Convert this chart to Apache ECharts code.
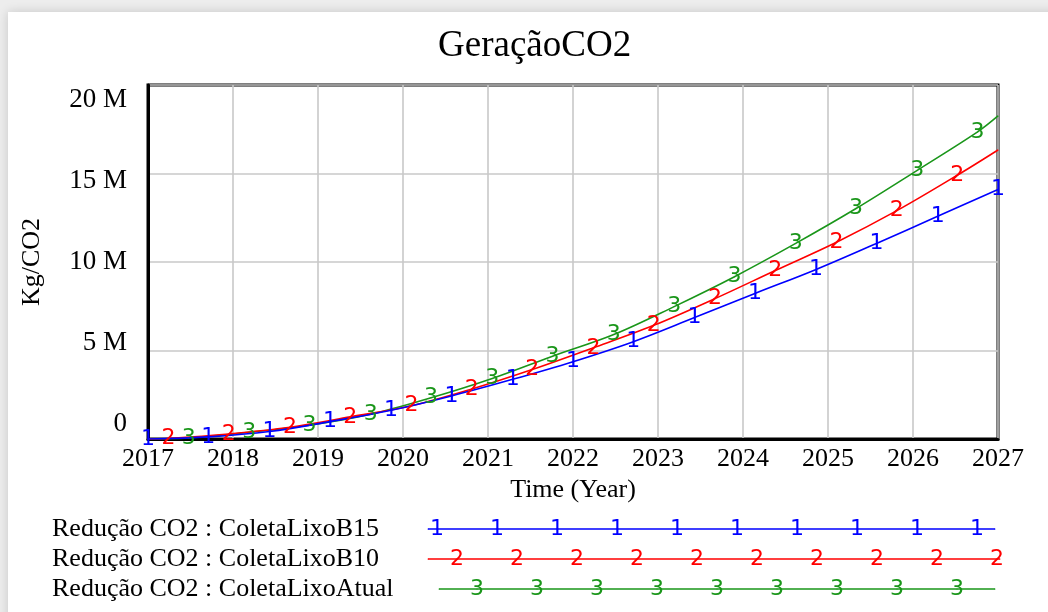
<!DOCTYPE html>
<html><head><meta charset="utf-8">
<script src="https://cdn.jsdelivr.net/npm/echarts@6/dist/echarts.min.js"></script>
<style>
html,body{margin:0;padding:0;background:#ededed;width:1048px;height:612px;overflow:hidden}
#card{position:absolute;left:8px;top:12px;width:1080px;height:640px;background:#fff;box-shadow:0 0 10px rgba(0,0,0,0.16)}
#chart{position:absolute;left:0;top:0;width:1048px;height:612px}
</style></head><body><div id="card"></div><div id="chart"></div>
<script>
const titleText = 'GeraçãoCO2';
const yAxisName = 'Kg/CO2';
const xAxisName = 'Time (Year)';
const xMin = 2017, xMax = 2027;
const yTickValues = [0, 5, 10, 15, 20];          // M Kg
const seriesNames = ['Redução CO2 : ColetaLixoB15', 'Redução CO2 : ColetaLixoB10', 'Redução CO2 : ColetaLixoAtual'];
const seriesMarks = ['1', '2', '3'];
const seriesColors = ['#0000ff', '#ff0000', '#1a961a'];
const marksAtEnds = [true, false, false];

// ColetaLixoB15 (blue) — time, value in millions
const b15Years  = [2017.00, 2017.71, 2018.43, 2019.14, 2019.86, 2020.57, 2021.29, 2022.00, 2022.71, 2023.43, 2024.14, 2024.86, 2025.57, 2026.29, 2027.00];
const b15Values = [0.00, 0.12, 0.42, 0.98, 1.62, 2.43, 3.37, 4.37, 5.50, 6.86, 8.22, 9.58, 11.05, 12.58, 14.10];
// ColetaLixoB10 (red)
const b10Years  = [2017.00, 2017.24, 2017.95, 2018.67, 2019.38, 2020.10, 2020.81, 2021.52, 2022.24, 2022.95, 2023.67, 2024.38, 2025.10, 2025.81, 2026.52, 2027.00];
const b10Values = [0.00, 0.03, 0.28, 0.66, 1.25, 1.88, 2.82, 3.92, 5.15, 6.42, 7.93, 9.52, 11.12, 12.90, 14.90, 16.33];
// ColetaLixoAtual (green)
const atualYears  = [2017.00, 2017.48, 2018.19, 2018.90, 2019.62, 2020.33, 2021.05, 2021.76, 2022.48, 2023.19, 2023.90, 2024.62, 2025.33, 2026.05, 2026.76, 2027.00];
const atualValues = [0.00, 0.06, 0.38, 0.78, 1.40, 2.33, 3.42, 4.68, 5.90, 7.48, 9.17, 11.05, 13.02, 15.18, 17.35, 18.25];

const allYears = [b15Years, b10Years, atualYears];
const allValues = [b15Values, b10Values, atualValues];

const serif = 'Liberation Serif';
const markFont = {fontFamily: 'DejaVu Sans', fontSize: 22, fontWeight: 'normal'};

function markLabel(i) {
  return Object.assign({show: true, position: 'inside', formatter: seriesMarks[i], color: seriesColors[i]}, markFont);
}

function mainSeries(i) {
  const ys = allYears[i], vs = allValues[i];
  const data = ys.map((x, j) => {
    const isEnd = (j === 0 || j === ys.length - 1);
    const item = {value: [x, vs[j]]};
    if (isEnd && !marksAtEnds[i]) item.label = {show: false};
    return item;
  });
  return {
    type: 'line', name: seriesNames[i], xAxisIndex: 0, yAxisIndex: 0,
    data, smooth: 0.35, symbol: 'circle', symbolSize: 1, showSymbol: true,
    lineStyle: {color: seriesColors[i], width: 1.6},
    itemStyle: {color: seriesColors[i]},
    label: markLabel(i),
    labelLayout: {hideOverlap: false},
    silent: true, z: 3
  };
}

// legend rows (layout in pixels of the legend grid)
const legendRows = [{start: 428, end: 995, first: 437}, {start: 428, end: 1000, first: 457}, {start: 439, end: 995, first: 477}];
function legendSeries(i) {
  const r = legendRows[i];
  const data = [{value: [r.start, seriesNames[i]], label: {show: false}}];
  for (let x = r.first; x <= r.end + 1; x += 60) data.push({value: [x, seriesNames[i]]});
  if (data[data.length - 1].value[0] < r.end) data.push({value: [r.end, seriesNames[i]], label: {show: false}});
  return {
    type: 'line', xAxisIndex: 1, yAxisIndex: 2, data,
    symbol: 'circle', symbolSize: 1, showSymbol: true,
    lineStyle: {color: seriesColors[i], width: 1.6},
    itemStyle: {color: seriesColors[i]},
    label: markLabel(i),
    silent: true
  };
}

const chart = echarts.init(document.getElementById('chart'), null, {renderer: 'canvas'});
chart.setOption({
  animation: false,
  backgroundColor: 'transparent',
  title: {text: titleText, left: 433, top: 23,
    textStyle: {fontFamily: serif, fontSize: 37, fontWeight: 'normal', color: '#000'}},
  grid: [
    {left: 148, top: 85, width: 850, height: 354, show: true, borderColor: '#000', borderWidth: 3, backgroundColor: 'transparent'},
    {left: 428, top: 514, width: 572, height: 90}
  ],
  xAxis: [
    {type: 'value', gridIndex: 0, min: xMin, max: xMax, interval: 1,
      name: xAxisName, nameLocation: 'middle', nameGap: 38,
      nameTextStyle: {fontFamily: serif, fontSize: 26, color: '#000'},
      axisLine: {show: true, lineStyle: {color: '#000', width: 3}},
      axisTick: {show: false},
      axisLabel: {fontFamily: serif, fontSize: 26, color: '#000', margin: 7, showMinLabel: true, showMaxLabel: true,
        formatter: v => String(v)},
      splitLine: {show: true, lineStyle: {color: '#c8c8c8', width: 1.6}}},
    {type: 'value', gridIndex: 1, min: 428, max: 1000, show: false}
  ],
  yAxis: [
    {type: 'value', gridIndex: 0, min: yTickValues[0], max: yTickValues[yTickValues.length - 1], interval: 5,
      name: yAxisName, nameLocation: 'middle', nameRotate: 90, nameGap: 103,
      nameTextStyle: {fontFamily: serif, fontSize: 26, color: '#000'},
      axisLine: {show: true, lineStyle: {color: '#000', width: 3}},
      axisTick: {show: false}, axisLabel: {show: false},
      splitLine: {show: true, lineStyle: {color: '#c8c8c8', width: 1.6}}},
    {type: 'value', gridIndex: 0, position: 'left', min: -0.958, max: 20.92,
      axisLine: {show: false}, axisTick: {show: false}, splitLine: {show: false},
      axisLabel: {show: true, customValues: yTickValues, margin: 21,
        fontFamily: serif, fontSize: 27, color: '#000',
        formatter: v => (v === 0 ? '0' : v + ' M')}},
    {type: 'category', gridIndex: 1, data: seriesNames, inverse: true,
      axisLine: {show: false}, axisTick: {show: false}, splitLine: {show: false},
      axisLabel: {interval: 0, align: 'left', margin: 376, fontFamily: serif, fontSize: 26, color: '#000'}}
  ],
  series: [mainSeries(2), mainSeries(1), mainSeries(0), legendSeries(0), legendSeries(1), legendSeries(2)]
});
</script></body></html>
